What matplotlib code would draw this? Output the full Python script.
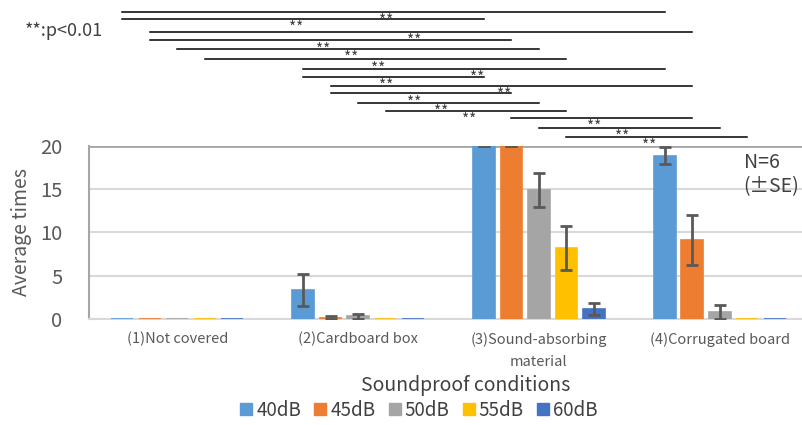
import numpy as np
import matplotlib.pyplot as plt
from matplotlib.lines import Line2D

plt.rcParams['font.family'] = ['Noto Sans CJK JP', 'DejaVu Sans']

# mean counts and standard errors per soundproof condition (N=6)
conditions = ['(1)Not covered', '(2)Cardboard box',
              '(3)Sound-absorbing\nmaterial', '(4)Corrugated board']
levels = ['40dB', '45dB', '50dB', '55dB', '60dB']
colors = ['#5B9BD5', '#ED7D31', '#A5A5A5', '#FFC000', '#4472C4']

mean_40 = [0.0, 3.33, 20.0, 18.83]
mean_45 = [0.0, 0.17, 20.0, 9.17]
mean_50 = [0.0, 0.33, 14.83, 0.83]
mean_55 = [0.0, 0.0, 8.17, 0.0]
mean_60 = [0.0, 0.0, 1.17, 0.0]

se_40 = [0.0, 1.83, 0.0, 0.98]
se_45 = [0.0, 0.17, 0.0, 2.88]
se_50 = [0.0, 0.33, 1.95, 0.76]
se_55 = [0.0, 0.0, 2.55, 0.0]
se_60 = [0.0, 0.0, 0.72, 0.0]

means = [mean_40, mean_45, mean_50, mean_55, mean_60]
errs = [se_40, se_45, se_50, se_55, se_60]

# significant pairs: ((condition, level), (condition, level)), p<0.01
pairs = [((0, 0), (3, 0)), ((0, 0), (2, 0)), ((0, 1), (3, 1)), ((0, 1), (2, 1)),
         ((0, 2), (2, 2)), ((0, 3), (2, 3)), ((1, 0), (3, 0)), ((1, 0), (2, 0)),
         ((1, 1), (3, 1)), ((1, 1), (2, 1)), ((1, 2), (2, 2)), ((1, 3), (2, 3)),
         ((2, 1), (3, 1)), ((2, 2), (3, 2)), ((2, 3), (3, 3))]
pair_y = [35.4, 34.6, 33.1, 32.1, 31.1, 29.9, 28.8, 27.9,
          26.9, 26.0, 24.9, 24.0, 23.2, 22.0, 21.0]

fig = plt.figure(figsize=(8.02, 4.25), dpi=100)
ax = fig.add_axes([0.1106, 0.2487, 0.8894, 0.4089])

step = 0.152
width = 0.12
x = np.arange(len(conditions))
for i, lev in enumerate(levels):
    xs = x + (i - 2) * step
    m = np.array(means[i])
    e = np.array(errs[i])
    ax.bar(xs, m, width, color=colors[i], edgecolor=colors[i], linewidth=1.2,
           label=lev, zorder=3)
    show = m > 0
    ax.errorbar(xs[show], m[show], yerr=e[show], fmt='none', ecolor='#595959',
                elinewidth=2, capsize=4, capthick=2, zorder=4)

def bar_x(c, l):
    return c + (l - 2) * step

for ((c1, l1), (c2, l2)), yy in zip(pairs, pair_y):
    x1, x2 = bar_x(c1, l1), bar_x(c2, l2)
    ax.plot([x1, x2], [yy, yy], color='black', lw=1.1, clip_on=False, zorder=5)
    ax.text((x1 + x2) / 2 - 0.04, yy - 0.1, '**', ha='center', va='top',
            fontsize=11, color='#404040', clip_on=False)

ax.set_xlim(-0.49, 3.455)
ax.set_ylim(0, 20)
ax.set_yticks([0, 5, 10, 15, 20])
ax.set_xticks(x)
ax.set_xticklabels(conditions, fontsize=10.5, color='#595959', linespacing=1.8)
ax.tick_params(axis='x', length=0, pad=9)
ax.tick_params(axis='y', length=0, labelsize=14.5, labelcolor='#595959', pad=19)
ax.yaxis.grid(True, color='#D9D9D9', lw=1.5, zorder=0)
for s in ['top', 'right']:
    ax.spines[s].set_visible(False)
ax.spines['left'].set_color('#A6A6A6')
ax.spines['left'].set_linewidth(1.5)
ax.spines['bottom'].set_color('#D9D9D9')
ax.spines['bottom'].set_linewidth(1.5)
ax.axhline(20, color='#A6A6A6', lw=2, zorder=2)

ax.set_ylabel('Average times', fontsize=14, color='#595959', labelpad=6)
fig.text(0.581, 0.093, 'Soundproof conditions', ha='center', va='center',
         fontsize=14, color='#404040')
fig.text(0.031, 0.928, '**:p<0.01', ha='left', va='center', fontsize=13,
         color='#404040')
ax.text(0.918, 0.96, 'N=6\n(±SE)', transform=ax.transAxes, ha='left',
        va='top', fontsize=14, color='#404040', linespacing=1.15)

handles = [Line2D([], [], marker='s', ls='none', markersize=9,
                  markerfacecolor=c, markeredgecolor=c) for c in colors]
fig.legend(handles, levels, loc='center', bbox_to_anchor=(0.521, 0.035),
           ncol=5, frameon=False, fontsize=13.5, handletextpad=0.1,
           columnspacing=0.55, labelcolor='#404040', handlelength=0.9)

fig.savefig('out.png', dpi=100)
